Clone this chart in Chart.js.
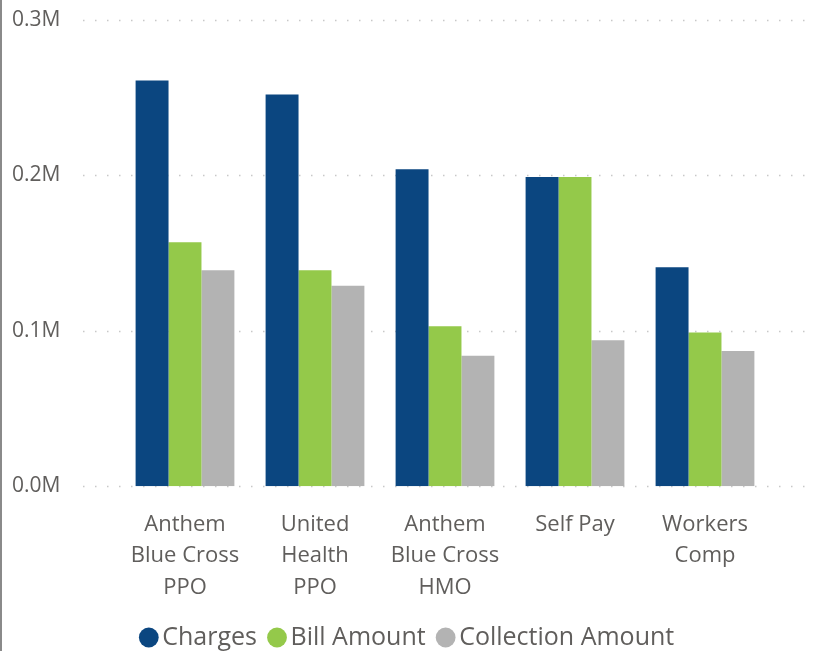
<!DOCTYPE html>
<html>
<head>
<meta charset="utf-8">
<script src="https://cdn.jsdelivr.net/npm/chart.js@4"></script>
<style>
  html, body { margin: 0; padding: 0; background: #fff; }
  #wrap { width: 813px; height: 651px; border-left: 2px solid #8a8a8a; }
</style>
</head>
<body>
<div id="wrap"><canvas id="payerChart" width="813" height="651"></canvas></div>
<script>
const categories = [
  ['Anthem', 'Blue Cross', 'PPO'],
  ['United', 'Health', 'PPO'],
  ['Anthem', 'Blue Cross', 'HMO'],
  ['Self Pay'],
  ['Workers', 'Comp']
];
const charges = [261000, 252000, 204000, 199000, 141000];
const billAmount = [157000, 139000, 103000, 199000, 99000];
const collectionAmount = [139000, 129000, 84000, 94000, 87000];
const yTicks = [0, 100000, 200000, 300000];

const fontFamily = "'Open Sans', 'Noto Sans', sans-serif";
const textColor = '#605e5c';

// dotted guide lines, drawn a bit wider than the bar area like the original
const dottedGrid = {
  id: 'dottedGrid',
  beforeDatasetsDraw(chart) {
    const { ctx, scales } = chart;
    ctx.save();
    ctx.strokeStyle = '#c8c8c8';
    ctx.lineWidth = 1.5;
    ctx.setLineDash([1.5, 10.5]);
    yTicks.forEach(v => {
      const y = Math.round(scales.y.getPixelForValue(v)) + 0.5;
      ctx.beginPath();
      ctx.moveTo(81, y);
      ctx.lineTo(808, y);
      ctx.stroke();
    });
    ctx.restore();
  }
};

// nudge the legend right so it sits centred like the original
const legendShift = {
  id: 'legendShift',
  afterLayout(chart) {
    if (chart.legend) {
      chart.legend.left += 20;
      chart.legend.right += 20;
    }
  }
};

document.addEventListener('DOMContentLoaded', function () {
  const ctx = document.getElementById('payerChart');

  new Chart(ctx, {
    type: 'bar',
    data: {
      labels: categories,
      datasets: [
        { label: 'Charges', data: charges, backgroundColor: '#0b4680' },
        { label: 'Bill Amount', data: billAmount, backgroundColor: '#94c94a' },
        { label: 'Collection Amount', data: collectionAmount, backgroundColor: '#b3b3b3' }
      ]
    },
    options: {
      responsive: false,
      animation: false,
      layout: { padding: { left: 10, right: 45, top: 20, bottom: -9 } },
      datasets: {
        bar: { categoryPercentage: 0.76, barPercentage: 1.0 }
      },
      plugins: {
        legend: {
          position: 'bottom',
          labels: {
            usePointStyle: true,
            pointStyle: 'circle',
            boxWidth: 2,
            boxHeight: 14,
            padding: 19,
            color: textColor,
            font: { family: fontFamily, size: 25 }
          }
        },
        tooltip: { enabled: false }
      },
      scales: {
        x: {
          grid: { display: false },
          border: { display: false },
          afterFit(scale) { scale.height -= 12; },
          ticks: {
            color: textColor,
            padding: 14,
            maxRotation: 0,
            font: { family: fontFamily, size: 22, lineHeight: 1.45 }
          }
        },
        y: {
          min: 0,
          max: 300000,
          grid: { display: false },
          border: { display: false },
          afterFit(scale) { scale.width = 108; },
          ticks: {
            stepSize: 100000,
            crossAlign: 'far',
            color: textColor,
            font: { family: fontFamily, size: 21 },
            callback: (value) => (value / 1000000).toFixed(1) + 'M'
          }
        }
      }
    },
    plugins: [dottedGrid, legendShift]
  });
});
</script>
</body>
</html>
